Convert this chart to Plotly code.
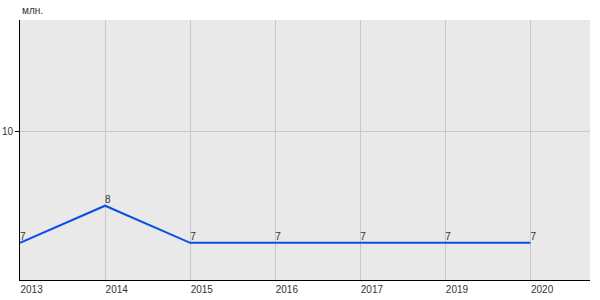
import plotly.graph_objects as go

years = ["2013", "2014", "2015", "2016", "2017", "2019", "2020"]
values = [7, 8, 7, 7, 7, 7, 7]
labels = [str(v) for v in values]
y_ticks = [10]
unit = "млн."

fig = go.Figure()
fig.add_trace(go.Scatter(
    x=years, y=values, mode="lines+text",
    line=dict(color="#0a50e6", width=2),
    text=labels, textposition="top right",
    textfont=dict(family="Liberation Sans, Arial", size=10, color="#333333"),
    cliponaxis=False, hoverinfo="skip",
))

fig.update_layout(
    width=600, height=300,
    margin=dict(l=20, r=10, t=20, b=20),
    paper_bgcolor="white", plot_bgcolor="#e9e9e9",
    showlegend=False,
    font=dict(family="Liberation Sans, Arial", size=10, color="#333333"),
    xaxis=dict(
        type="category", range=[0, 6.7], automargin=False,
        showgrid=True, gridcolor="#c8c8c8", gridwidth=1,
        showline=True, linecolor="black", linewidth=1,
        ticks="", ticklabelposition="outside right",
        zeroline=False, fixedrange=True,
    ),
    yaxis=dict(
        range=[6, 13], tickvals=y_ticks, automargin=False,
        showgrid=True, gridcolor="#c8c8c8", gridwidth=1,
        showline=True, linecolor="black", linewidth=1,
        ticks="outside", ticklen=4, tickcolor="black",
        zeroline=False, fixedrange=True,
    ),
    annotations=[dict(
        text=unit, x=0, y=1, xref="paper", yref="paper",
        xanchor="left", yanchor="bottom", yshift=2, showarrow=False,
        font=dict(family="Liberation Sans, Arial", size=10, color="#333333"),
    )],
)

fig.write_html("out.html")
